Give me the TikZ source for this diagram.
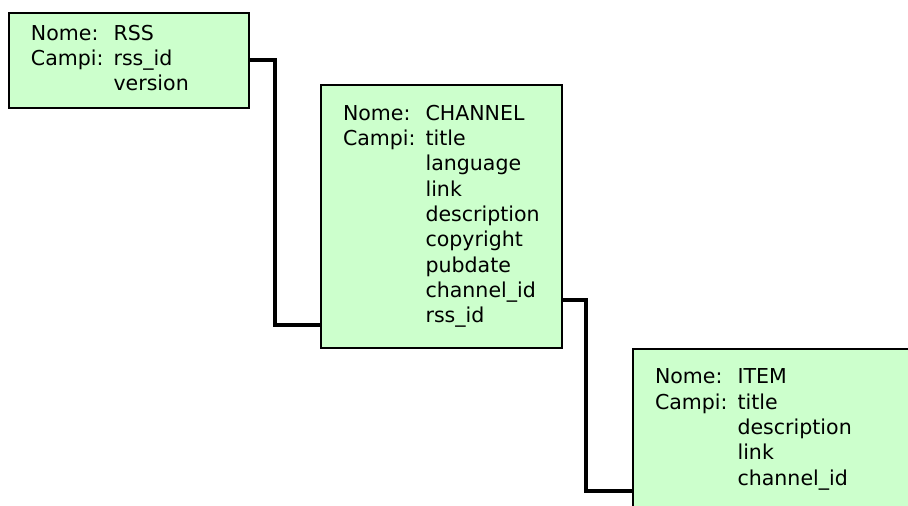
\documentclass[tikz,border=0pt]{standalone}
\usepackage{fontspec}
\setmainfont{DejaVu Sans}
\definecolor{tablegreen}{HTML}{CCFFCC}
\begin{document}
\begin{tikzpicture}
      [%%%%%%%%%%%%%%%%%%%%%%%%%%%%%%
      x=0.75pt, y=-0.75pt,
      table/.style={rectangle,draw=black,line width=1.5pt,fill=tablegreen,
        anchor=north west,inner xsep=16.5pt,inner ysep=0pt,align=left,
        font=\fontsize{15.4pt}{19pt}\selectfont},
      link/.style={line width=3pt,draw=black},
      ]%%%%%%%%%%%%%%%%%%%%%%%%%%%%%%

      \clip (0,0) rectangle (908,506);

      \node[table,text width=147pt,minimum height=71.25pt] (rss) at (8,12)
        {\begin{tabular}{@{}l@{\hspace{7.5pt}}l@{}}
          Nome: & RSS\\
          Campi: & rss\_id\\
                 & version
        \end{tabular}};

      \node[table,text width=147.75pt,minimum height=197.25pt] (channel) at (320,84)
        {\begin{tabular}{@{}l@{\hspace{7.5pt}}l@{}}
          Nome: & CHANNEL\\
          Campi: & title\\
                 & language\\
                 & link\\
                 & description\\
                 & copyright\\
                 & pubdate\\
                 & channel\_id\\
                 & rss\_id
        \end{tabular}};

      \node[table,text width=192pt,minimum height=120.75pt] (item) at (632,348)
        {\begin{tabular}{@{}l@{\hspace{7.5pt}}l@{}}
          Nome: & ITEM\\
          Campi: & title\\
                 & description\\
                 & link\\
                 & channel\_id
        \end{tabular}};

      \draw[link] (rss.east) -- ++(25,0) |- ([yshift=18pt]channel.south west);
      \draw[link] ([yshift=36.75pt]channel.south east) -- ++(23,0)
        |- ([yshift=-107.25pt]item.north west);
    \end{tikzpicture}
\end{document}
